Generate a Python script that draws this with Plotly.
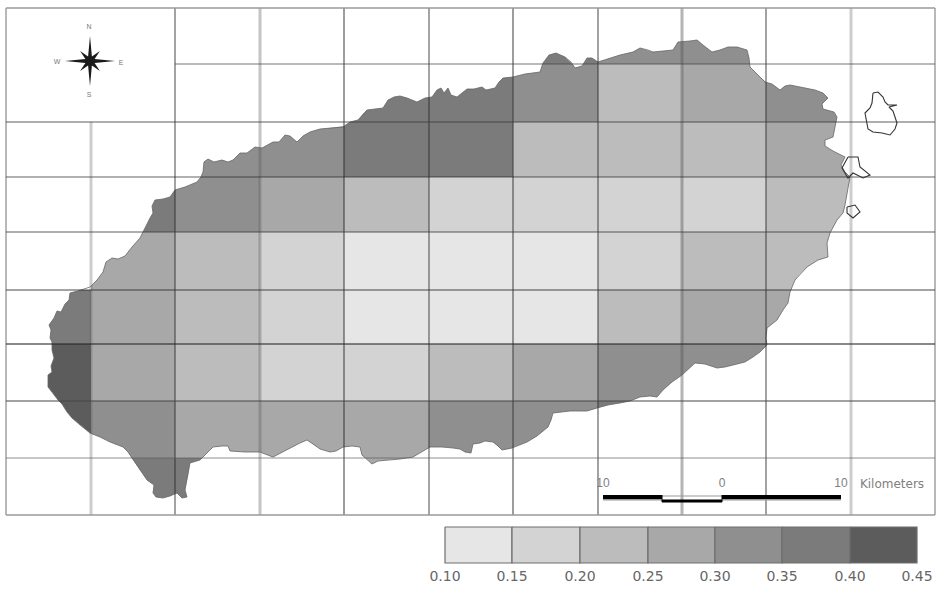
import plotly.graph_objects as go

# Map frame and grid positions (image-aligned map units)
col_edges = [6, 91, 175, 260, 344, 429, 513, 598, 682, 766, 851, 935]
row_edges = [8, 64, 122, 177, 232, 290, 344, 401, 458, 515]

# Class breaks and greys of the legend
class_breaks = [0.10, 0.15, 0.20, 0.25, 0.30, 0.35, 0.40, 0.45]
class_greys = ["#e6e6e6", "#d3d3d3", "#bcbcbc", "#a8a8a8", "#8f8f8f", "#7b7b7b", "#5c5c5c"]
class_labels = ["0.10", "0.15", "0.20", "0.25", "0.30", "0.35", "0.40", "0.45"]
legend_edges = [445, 512, 580, 648, 715, 782, 850, 917]
legend_y = [527, 563]

# Estimated cell values: rows north to south, columns west to east
N = None
cell_values = [
    [N, N, N, N, N, N, 0.36, 0.33, 0.32, N, N],
    [N, N, N, N, 0.38, 0.38, 0.33, 0.22, 0.27, 0.31, N],
    [N, N, 0.33, 0.33, 0.35, 0.36, 0.23, 0.23, 0.23, 0.27, N],
    [N, 0.36, 0.33, 0.27, 0.23, 0.18, 0.18, 0.18, 0.18, 0.22, N],
    [N, 0.27, 0.22, 0.18, 0.13, 0.13, 0.13, 0.18, 0.22, 0.22, N],
    [0.36, 0.27, 0.22, 0.18, 0.13, 0.13, 0.13, 0.22, 0.27, 0.27, N],
    [0.42, 0.27, 0.22, 0.18, 0.18, 0.22, 0.27, 0.32, 0.31, N, N],
    [0.41, 0.33, 0.27, 0.27, 0.27, 0.32, 0.33, 0.36, N, N, N],
    [N, 0.36, 0.36, N, 0.27, N, N, N, N, N, N],
]

# Coastline of the main island
coast = [
    (48, 375), (52, 372), (51, 366), (54, 358), (52, 350), (52, 342), (50, 338), (51, 330), (49, 325), (54, 318),
    (57, 311), (61, 312), (65, 304), (69, 300), (70, 293), (78, 291), (90, 287), (97, 280), (103, 272), (106, 262),
    (112, 258), (118, 259), (125, 256), (132, 247), (140, 238), (144, 230), (147, 223), (150, 218), (153, 213),
    (152, 206), (155, 200), (163, 199), (170, 197), (175, 190), (185, 187), (197, 182), (201, 177), (203, 172),
    (204, 162), (208, 159), (214, 162), (222, 160), (228, 162), (233, 160), (240, 153), (247, 153), (255, 147),
    (262, 148), (273, 142), (279, 142), (285, 135), (290, 136), (297, 142), (303, 136), (310, 132), (320, 129),
    (343, 127), (350, 122), (358, 120), (363, 114), (367, 110), (383, 108), (388, 100), (394, 97), (400, 96),
    (407, 98), (417, 102), (425, 98), (432, 97), (437, 90), (441, 88), (444, 93), (448, 88), (451, 95), (457, 97),
    (462, 93), (467, 89), (474, 89), (482, 87), (486, 90), (495, 88), (499, 82), (503, 78), (513, 77), (525, 74),
    (540, 72), (543, 63), (549, 55), (556, 53), (565, 57), (571, 62), (575, 68), (582, 66), (587, 58), (592, 58),
    (598, 62), (620, 55), (633, 52), (640, 48), (648, 50), (653, 52), (673, 50), (678, 42), (690, 41), (697, 40),
    (703, 45), (712, 52), (720, 50), (728, 47), (737, 47), (747, 50), (749, 58), (750, 67), (757, 74), (765, 82),
    (772, 84), (780, 90), (785, 86), (790, 85), (800, 87), (815, 90), (823, 93), (828, 98), (822, 104), (823, 109),
    (834, 112), (837, 117), (835, 127), (833, 137), (825, 140), (825, 146), (833, 151), (845, 157), (841, 165),
    (845, 172), (850, 177), (848, 190), (845, 205), (843, 213), (837, 220), (830, 233), (827, 243), (828, 257),
    (818, 260), (807, 267), (800, 274), (795, 280), (790, 292), (788, 303), (783, 310), (777, 320), (767, 328),
    (766, 338), (767, 345), (760, 352), (753, 357), (745, 362), (733, 365), (725, 367), (717, 368), (705, 364),
    (695, 363), (688, 370), (682, 375), (672, 382), (663, 390), (657, 397), (650, 396), (640, 397), (630, 401),
    (620, 403), (608, 405), (597, 408), (587, 411), (570, 411), (553, 413), (551, 420), (548, 427), (537, 436),
    (527, 442), (512, 448), (502, 450), (497, 445), (493, 442), (485, 441), (480, 443), (473, 444), (471, 453),
    (465, 452), (460, 449), (453, 448), (442, 447), (430, 447), (423, 451), (413, 457), (400, 459), (387, 460),
    (378, 461), (372, 464), (368, 460), (362, 455), (360, 447), (352, 446), (343, 447), (336, 451), (330, 452),
    (320, 449), (313, 444), (307, 440), (300, 443), (287, 450), (280, 453), (273, 457), (265, 454), (260, 452),
    (245, 452), (230, 451), (228, 446), (222, 446), (213, 447), (207, 453), (200, 460), (190, 463), (188, 475),
    (185, 490), (187, 497), (182, 498), (177, 493), (170, 496), (163, 498), (156, 497), (153, 493), (154, 485),
    (147, 480), (140, 470), (133, 460), (128, 452), (123, 447), (110, 442), (100, 437), (90, 433), (80, 425),
    (72, 418), (67, 412), (62, 404), (58, 400), (52, 392), (48, 387), (48, 380),
]
island_x = [p[0] for p in coast]
island_y = [p[1] for p in coast]

# Offshore islets (outline only)
islets = {
    "Udo": ([873, 878, 883, 885, 888, 897, 889, 893, 895, 897, 895, 890, 882, 873, 868, 867, 865, 870, 872, 873],
            [93, 92, 97, 102, 105, 105, 107, 111, 117, 123, 129, 135, 133, 132, 129, 123, 113, 108, 103, 93]),
    "Seongsan": ([848, 858, 860, 870, 863, 853, 848, 842, 848],
                 [157, 157, 167, 175, 178, 173, 178, 168, 157]),
    "Islet": ([847, 855, 860, 853, 847, 847],
              [207, 205, 212, 218, 213, 207]),
}

# Compass rose
compass_cx, compass_cy = 90, 61
compass_long = 25
compass_short = 14
compass_waist = 5
compass_letters = [("N", 89, 27), ("S", 89, 95), ("W", 57, 62), ("E", 121, 63)]

# Scale bar
scale_x = [603, 662, 722, 841]
scale_upper_y, scale_lower_y = 497, 501
scale_labels = [("10", 603, 484), ("0", 722, 484), ("10", 841, 484)]
scale_unit = ("Kilometers", 892, 485)

# Grid line styling: (position, start, end, colour, width)
v_lines = [
    (6, 8, 515, "#9a9a9a", 1.4),
    (91, 122, 515, "rgba(90,90,90,0.30)", 3),
    (175, 8, 515, "rgba(40,40,40,0.72)", 1.2),
    (260, 8, 515, "rgba(90,90,90,0.35)", 3),
    (344, 8, 515, "rgba(40,40,40,0.65)", 1.4),
    (429, 8, 515, "rgba(40,40,40,0.70)", 1.2),
    (513, 8, 515, "rgba(60,60,60,0.50)", 2),
    (598, 8, 515, "rgba(40,40,40,0.72)", 1.2),
    (682, 8, 515, "rgba(90,90,90,0.45)", 3),
    (766, 8, 515, "rgba(40,40,40,0.72)", 1.2),
    (851, 8, 515, "rgba(90,90,90,0.30)", 3),
    (935, 8, 515, "#9a9a9a", 1.4),
]
h_lines = [
    (8, 6, 935, "#9a9a9a", 1.4),
    (64, 175, 935, "rgba(70,70,70,0.50)", 1.6),
    (122, 6, 935, "rgba(60,60,60,0.55)", 1.6),
    (177, 6, 935, "rgba(40,40,40,0.72)", 1.2),
    (232, 6, 935, "rgba(60,60,60,0.55)", 1.6),
    (290, 6, 935, "rgba(50,50,50,0.60)", 1.6),
    (344, 6, 935, "rgba(40,40,40,0.72)", 1.4),
    (401, 6, 935, "rgba(70,70,70,0.50)", 2),
    (458, 6, 935, "rgba(90,90,90,0.45)", 1.6),
    (515, 6, 935, "#9a9a9a", 1.4),
]


def grey_for(v):
    for i, g in enumerate(class_greys):
        if class_breaks[i] <= v < class_breaks[i + 1]:
            return g
    return class_greys[-1]


def clip_axis(pts, axis, limit, keep_greater):
    """One Sutherland-Hodgman pass of a polygon against an axis-aligned edge."""
    inside = (lambda p: p[axis] >= limit) if keep_greater else (lambda p: p[axis] <= limit)
    out = []
    for i, cur in enumerate(pts):
        prev = pts[i - 1]
        if inside(cur) != inside(prev):
            t = (limit - prev[axis]) / (cur[axis] - prev[axis])
            out.append((prev[0] + t * (cur[0] - prev[0]), prev[1] + t * (cur[1] - prev[1])))
        if inside(cur):
            out.append(cur)
    return out


def clip_rect(pts, x0, x1, y0, y1):
    for axis, limit, keep in [(0, x0, True), (0, x1, False), (1, y0, True), (1, y1, False)]:
        if not pts:
            return []
        pts = clip_axis(pts, axis, limit, keep)
    return pts


fig = go.Figure()


def line(xs, ys, color, width):
    fig.add_trace(go.Scatter(x=xs, y=ys, mode="lines", line=dict(color=color, width=width),
                             hoverinfo="skip", showlegend=False))


def patch(xs, ys, color):
    fig.add_trace(go.Scatter(x=xs, y=ys, mode="lines", fill="toself", fillcolor=color,
                             line=dict(width=0, color=color), hoverinfo="skip", showlegend=False))


# Island cells clipped to the coastline
for r, row in enumerate(cell_values):
    for c, v in enumerate(row):
        if v is None:
            continue
        poly = clip_rect(coast, col_edges[c], col_edges[c + 1], row_edges[r], row_edges[r + 1])
        if poly:
            poly = poly + [poly[0]]
            patch([p[0] for p in poly], [p[1] for p in poly], grey_for(v))

# Coastline
line(island_x + island_x[:1], island_y + island_y[:1], "#666666", 0.8)

# Grid
for pos, a, b, col, w in v_lines:
    line([pos, pos], [a, b], col, w)
for pos, a, b, col, w in h_lines:
    line([a, b], [pos, pos], col, w)

# Islets
for xs, ys in islets.values():
    line(xs, ys, "#333333", 1.1)

# Compass rose
dirs = [(0, -1), (0.38, -0.92), (0.71, -0.71), (0.92, -0.38), (1, 0), (0.92, 0.38), (0.71, 0.71), (0.38, 0.92),
        (0, 1), (-0.38, 0.92), (-0.71, 0.71), (-0.92, 0.38), (-1, 0), (-0.92, -0.38), (-0.71, -0.71), (-0.38, -0.92)]
star_x, star_y = [], []
for i, (dx, dy) in enumerate(dirs):
    rad = compass_long if i % 4 == 0 else (compass_short if i % 2 == 0 else compass_waist)
    star_x.append(compass_cx + dx * rad)
    star_y.append(compass_cy + dy * rad)
patch(star_x + star_x[:1], star_y + star_y[:1], "#1a1a1a")

# Scale bar
line([scale_x[0], scale_x[1]], [scale_upper_y + 2.5, scale_upper_y + 2.5], "#999999", 2)
line([scale_x[2], scale_x[3]], [scale_upper_y + 2.5, scale_upper_y + 2.5], "#999999", 2)
line([scale_x[0], scale_x[1]], [scale_upper_y, scale_upper_y], "#000000", 4)
line([scale_x[1], scale_x[2]], [scale_lower_y, scale_lower_y], "#000000", 3)
line([scale_x[1], scale_x[2]], [scale_upper_y - 1, scale_upper_y - 1], "#999999", 1)
line([scale_x[2], scale_x[3]], [scale_upper_y, scale_upper_y], "#000000", 4)
line([scale_x[1], scale_x[1]], [scale_upper_y - 2, scale_lower_y + 1], "#000000", 1)
line([scale_x[2], scale_x[2]], [scale_upper_y - 2, scale_lower_y + 1], "#000000", 1)

# Legend swatches
for i, g in enumerate(class_greys):
    x0, x1 = legend_edges[i], legend_edges[i + 1]
    fig.add_trace(go.Scatter(x=[x0, x1, x1, x0, x0], y=[legend_y[0], legend_y[0], legend_y[1], legend_y[1], legend_y[0]],
                             mode="lines", fill="toself", fillcolor=g, line=dict(color="#6e6e6e", width=1.2),
                             hoverinfo="skip", showlegend=False))

# Text
fig.add_trace(go.Scatter(x=legend_edges, y=[577] * len(legend_edges), mode="text", text=class_labels,
                         textfont=dict(family="DejaVu Sans", size=14, color="#666666"),
                         textposition="middle center", hoverinfo="skip", showlegend=False))
fig.add_trace(go.Scatter(x=[t[1] for t in scale_labels], y=[t[2] for t in scale_labels], mode="text",
                         text=[t[0] for t in scale_labels],
                         textfont=dict(family="Liberation Sans", size=12, color="#808080"),
                         textposition="middle center", hoverinfo="skip", showlegend=False))
fig.add_trace(go.Scatter(x=[scale_unit[1]], y=[scale_unit[2]], mode="text", text=[scale_unit[0]],
                         textfont=dict(family="DejaVu Sans", size=12, color="#808080"),
                         textposition="middle center", hoverinfo="skip", showlegend=False))
fig.add_trace(go.Scatter(x=[t[1] for t in compass_letters], y=[t[2] for t in compass_letters], mode="text",
                         text=[t[0] for t in compass_letters],
                         textfont=dict(family="Liberation Sans", size=7, color="#777777"),
                         textposition="middle center", hoverinfo="skip", showlegend=False))

fig.update_layout(
    width=942, height=589, margin=dict(l=0, r=0, t=0, b=0),
    paper_bgcolor="white", plot_bgcolor="white", showlegend=False,
    xaxis=dict(range=[0, 942], visible=False, fixedrange=True),
    yaxis=dict(range=[589, 0], visible=False, fixedrange=True),
)

fig.write_html("out.html", config=dict(displayModeBar=False),
               post_script="document.body.style.margin='0';document.documentElement.style.overflow='hidden';")
